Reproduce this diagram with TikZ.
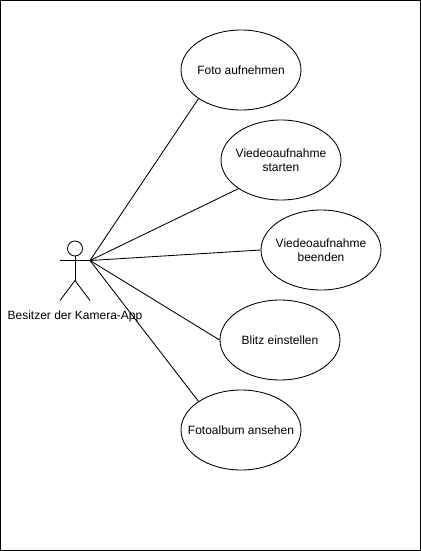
\documentclass[tikz,border=0pt]{standalone}
\usepackage{fontspec}
\setmainfont{Liberation Sans}
\usetikzlibrary{shapes.geometric}
\newcommand{\uctext}[1]{\makebox[0pt]{\raisebox{-3.8pt}[0pt][0pt]{\renewcommand{\arraystretch}{0.97}\begin{tabular}{@{}c@{}}#1\end{tabular}}}}
\tikzset{
  usecase/.style={draw=black,fill=white,ellipse,minimum width=90pt,minimum height=60pt,inner sep=0pt,font=\fontsize{9}{10.5}\selectfont,line width=0.65pt},
  link/.style={draw=black,line width=0.65pt},
  caption/.style={font=\fontsize{9}{12}\selectfont,inner sep=0pt}
}
\begin{document}
\begin{tikzpicture}[x=0.75pt,y=-0.75pt]
\useasboundingbox (0,0) rectangle (421,551);
\draw[black,line width=0.9pt] (0.5,0.5) rectangle (420.5,550.5);
\node[usecase] (foto) at (241,70) {\uctext{Foto aufnehmen}};
\node[usecase] (start) at (281,160) {\uctext{Viedeoaufnahme\\starten}};
\node[usecase] (stop) at (321,250) {\uctext{Viedeoaufnahme\\beenden}};
\node[usecase] (blitz) at (280,340) {\uctext{Blitz einstellen}};
\node[usecase] (album) at (241,430) {\uctext{Fotoalbum ansehen}};
\node[draw=black,circle,minimum size=11.25pt,inner sep=0pt,line width=0.65pt] (head) at (75,248.5) {};
\coordinate (hip) at (75,280.5);
\coordinate (armL) at (60,260.5);
\coordinate (armR) at (90,260.5);
\coordinate (footL) at (60,300.5);
\coordinate (footR) at (90,300.5);
\draw[link] (head.south) -- (hip);
\draw[link] (armL) -- (armR);
\draw[link] (footL) -- (hip) -- (footR);
\node[caption] (lbl) at (75,316) {Besitzer der Kamera-App};
\draw[link] (armR) -- (foto.214);
\draw[link] (armR) -- (start.214);
\draw[link] (armR) -- (stop.west);
\draw[link] (armR) -- (blitz.west);
\draw[link] (armR) -- (album.146);
\end{tikzpicture}
\end{document}
